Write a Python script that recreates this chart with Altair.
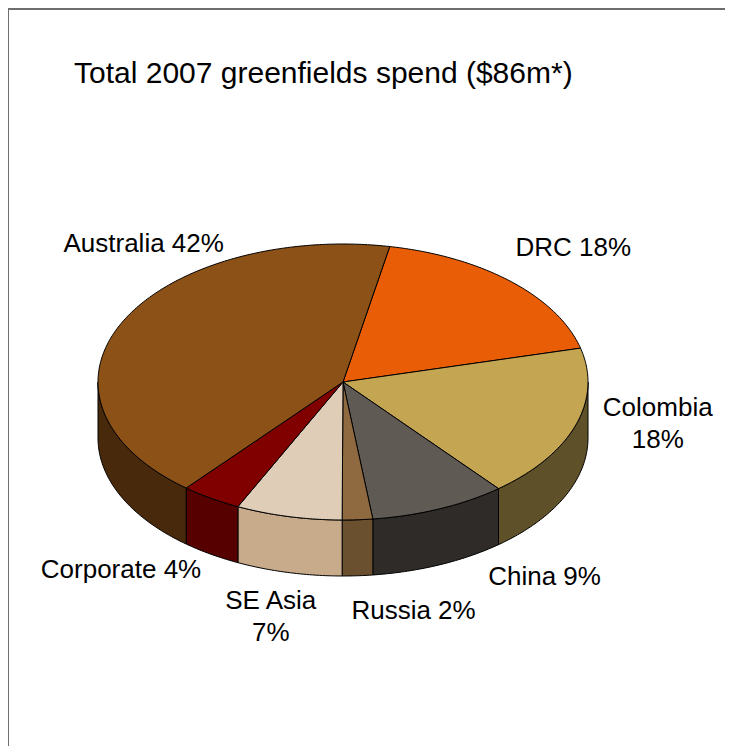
import altair as alt
import pandas as pd
import numpy as np

# ---- data ----
categories = ["DRC", "Colombia", "China", "Russia", "SE Asia", "Corporate", "Australia"]
shares = [18, 18, 9, 2, 7, 4, 42]
top_colors = ["#E95D06", "#C4A552", "#5F5A54", "#8F6A40", "#DFCDB7", "#800000", "#8B5116"]
side_colors = ["#7A3003", "#5E5029", "#2E2B28", "#6B5030", "#C8AB8A", "#560000", "#48290B"]
title_text = "Total 2007 greenfields spend ($86m*)"

# ---- layout ----
W, H = 717, 738
CX, CY, RX, RY, DEPTH = 335, 374, 245, 138, 56
START = 11.0
wrap = [False, True, False, False, True, False, False]
label_offsets = [(62, -34), (82, -73), (105, 12), (56, 35), (-18, 28), (-90, 16), (22, -79)]
FONT = "Liberation Sans"


def pt(t, dy=0.0):
    r = np.radians(t)
    return CX + RX * np.sin(r), CY - RY * np.cos(r) + dy


def arc(t1, t2):
    n = max(2, int(abs(t2 - t1) / 0.75) + 1)
    return np.linspace(t1, t2, n)


total = float(sum(shares))
tops, sides, labels = [], [], []
cum = START
for k, (cat, v) in enumerate(zip(categories, shares)):
    t1 = cum
    t2 = cum + v / total * 360.0
    cum = t2
    # top face
    pts = [(CX, CY)] + [pt(t) for t in arc(t1, t2)] + [(CX, CY)]
    for i, (x, y) in enumerate(pts):
        tops.append({"id": f"t{k}", "i": i, "x": x, "y": y, "col": top_colors[k]})
    # front side wall
    s, e = max(t1, 90.0), min(t2, 270.0)
    if e > s:
        a = arc(s, e)
        spts = [pt(t) for t in a] + [pt(t, DEPTH) for t in a[::-1]]
        spts.append(spts[0])
        for i, (x, y) in enumerate(spts):
            sides.append({"id": f"s{k}", "i": i, "x": x, "y": y, "col": side_colors[k]})
    # label
    m = (t1 + t2) / 2.0
    front = 90.0 < (m % 360.0) < 270.0
    ex, ey = pt(m, DEPTH if front else 0.0)
    ox, oy = label_offsets[k]
    sep = "\n" if wrap[k] else " "
    labels.append({"x": ex + ox, "y": ey + oy, "label": f"{cat}{sep}{v}%"})

tops_df = pd.DataFrame(tops)
sides_df = pd.DataFrame(sides)
labels_df = pd.DataFrame(labels)

xs = alt.Scale(domain=[0, W], range=[0, W], nice=False, zero=False)
ys = alt.Scale(domain=[0, H], nice=False, zero=False, reverse=True)
X = alt.X("x:Q", scale=xs, axis=None)
Y = alt.Y("y:Q", scale=ys, axis=None)


def poly(df):
    return alt.Chart(df).mark_line(
        stroke="#000000", strokeWidth=1, strokeJoin="round", interpolate="linear"
    ).encode(
        x=X, y=Y,
        detail="id:N",
        order=alt.Order("i:Q"),
        fill=alt.Fill("col:N", scale=None),
    )


side_layer = poly(sides_df)
top_layer = poly(tops_df)

label_layer = alt.Chart(labels_df).mark_text(
    font=FONT, fontSize=26, color="#000000", align="center", baseline="middle",
    lineBreak="\n", lineHeight=32,
).encode(x=X, y=Y, text="label:N")

frame_top = alt.Chart(pd.DataFrame({"k": [0]})).mark_rule(
    color="#6E6E6E", strokeWidth=2
).encode(x=alt.value(0), x2=alt.value(W), y=alt.value(1))
frame_left = alt.Chart(pd.DataFrame({"k": [0]})).mark_rule(
    color="#6E6E6E", strokeWidth=2
).encode(x=alt.value(0), y=alt.value(0), y2=alt.value(H))

chart = alt.layer(frame_top, frame_left, side_layer, top_layer, label_layer).properties(
    width=W, height=H,
    title=alt.TitleParams(
        text=title_text, anchor="start", frame="group", orient="top", offset=0,
        dx=66, dy=106, baseline="alphabetic", font=FONT, fontSize=30,
        fontWeight="normal", color="#000000",
    ),
    autosize=alt.AutoSizeParams(type="none"),
    padding=0,
).configure_view(stroke=None)

chart.save("out.html", embed_options={"renderer": "svg", "actions": False})
